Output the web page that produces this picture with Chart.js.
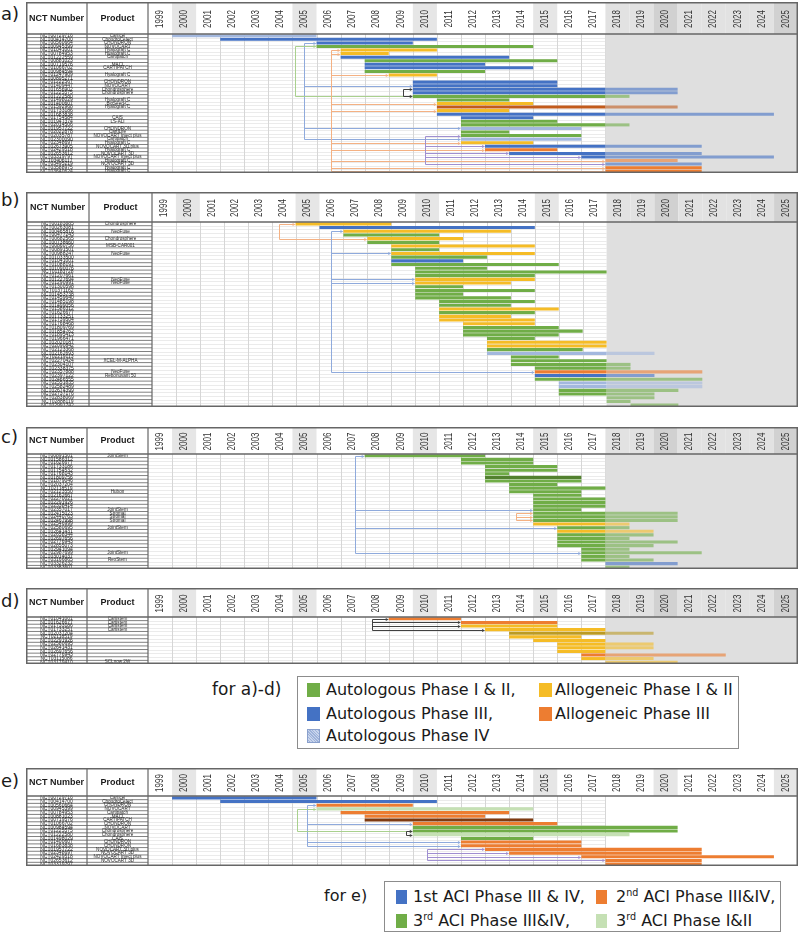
<!DOCTYPE html>
<html lang="en">
<head>
<meta charset="UTF-8">
<title>ACI clinical trials timeline</title>
<script src="https://cdn.jsdelivr.net/npm/chart.js"></script>
<style>
    body {
        margin: 0;
        width: 800px;
        height: 935px;
        position: relative;
        overflow: hidden;
        background: #ffffff;
        font-family: 'DejaVu Sans', sans-serif;
        color: #1a1a1a;
    }
    canvas { position: absolute; }
    .tag { position: absolute; left: 1px; font-size: 18px; line-height: 20px; }
    .note { position: absolute; line-height: 20px; }
    .legend { position: absolute; border: 1px solid #8c8c8c; box-sizing: border-box; background: #fff; }
    .legend span { position: absolute; }
    .legend .txt { line-height: 20px; white-space: nowrap; }
    .legend sup { font-size: 0.6em; vertical-align: 0.6em; line-height: 0; }
    .hatch {
        background: repeating-linear-gradient(45deg, #c9d5ec 0 1px, #9fb3da 1px 2px);
        border: 1px solid #8aa0cc;
        box-sizing: border-box;
    }
</style>
</head>
<body>
<div class="tag" style="top:4px">a)</div>
<div class="tag" style="top:190px">b)</div>
<div class="tag" style="top:427px">c)</div>
<div class="tag" style="top:591px">d)</div>
<div class="tag" style="top:771px">e)</div>

<div class="note" style="left:212px;top:679px;font-size:17px">for a)-d)</div>
<div class="legend" style="left:297px;top:676px;width:442px;height:73px;font-size:16px">
    <span style="left:9px;top:6px;width:13px;height:14px;background:#70ad47"></span>
    <span class="txt" style="left:28px;top:3px">Autologous Phase I &amp; II,</span>
    <span style="left:241px;top:6px;width:13px;height:14px;background:#f5bc26"></span>
    <span class="txt" style="left:257px;top:3px">Allogeneic Phase I &amp; II</span>
    <span style="left:9px;top:30px;width:13px;height:14px;background:#4472c4"></span>
    <span class="txt" style="left:28px;top:27px">Autologous Phase III,</span>
    <span style="left:241px;top:30px;width:13px;height:14px;background:#ed7d31"></span>
    <span class="txt" style="left:257px;top:27px">Allogeneic Phase III</span>
    <span class="hatch" style="left:9px;top:52px;width:13px;height:14px"></span>
    <span class="txt" style="left:28px;top:49px">Autologous Phase IV</span>
</div>

<div class="note" style="left:324px;top:886px;font-size:16px">for e)</div>
<div class="legend" style="left:384px;top:881px;width:397px;height:51px;font-size:16px">
    <span style="left:11px;top:8px;width:11px;height:14px;background:#4472c4"></span>
    <span class="txt" style="left:28px;top:5px">1st ACI Phase III &amp; IV,</span>
    <span style="left:211px;top:8px;width:11px;height:14px;background:#ed7d31"></span>
    <span class="txt" style="left:231px;top:5px">2<sup>nd</sup> ACI Phase III&amp;IV,</span>
    <span style="left:11px;top:32px;width:11px;height:14px;background:#70ad47"></span>
    <span class="txt" style="left:28px;top:29px">3<sup>rd</sup> ACI Phase III&amp;IV,</span>
    <span style="left:211px;top:32px;width:11px;height:14px;background:#c5e0b4"></span>
    <span class="txt" style="left:231px;top:29px">3<sup>rd</sup> ACI Phase I&amp;II</span>
</div>

<script>
    // year columns of every sheet
    const yearTicks = [1999, 2000, 2001, 2002, 2003, 2004, 2005, 2006, 2007, 2008, 2009, 2010, 2011, 2012,
        2013, 2014, 2015, 2016, 2017, 2018, 2019, 2020, 2021, 2022, 2023, 2024, 2025];
    const FUTURE = 2018; // planned part of a trial is drawn pale from here on

    // a) phase III / IV cartilage trials
    const aNct = ('NCT00729716 NCT00414700 NCT00560664 NCT00945399 NCT01041001 NCT00784953 NCT01222559 NCT00881023 ' +
        'NCT00719576 NCT01066702 NCT00984594 NCT01247909 NCT00895271 NCT01222567 NCT01409447 NCT01656902 NCT01225575 ' +
        'NCT01222580 NCT01498029 NCT01400607 NCT01592968 NCT01733186 NCT01683838 NCT01754584 NCT01947374 NCT02014506 ' +
        'NCT01957722 NCT02022878 NCT02035787 NCT02300090 NCT02348697 NCT02673905 NCT02429518 NCT02653612 NCT03319797 ' +
        'NCT03406117 NCT03495219 NCT03588975 NCT03640624').split(' ');
    const aProd = ['Carticel', 'ChondroCelect', 'CHONDRON', 'NOVOCART', 'Hyalograft C', 'Hyalograft C', 'Cartipatch', '',
        'MACI', 'CARTIPATCH', '', 'Hyalograft C', '', 'CHONDRON', 'NOVOCART', 'Chondrosphere', 'Chondrosphere', '',
        'Hyalograft C', 'BioSeed-C', 'Hyalograft C', '', '', 'CAIS', 'LS-ALI', '', 'CHONDRON', 'CartiLife',
        'NOVOCART Inject plus', 'Cartipatch', 'Hyalograft C', 'NOVOCART 3D plus', 'Hyalograft C', 'NOVOCART 3D',
        'NOVOCART Inject plus', 'Hyalograft C', 'NOVOCART 3D', 'Hyalograft C', 'Hyalograft C'];
    const aStart = [2000, 2002, 2006, 2006, 2007, 2007, 2007, 2008, 2008, 2008, 2008, 2009, null, 2010, 2010, 2010, 2010,
        2010, 2011, 2011, 2011, 2011, 2011, 2012, 2012, 2012, 2012, 2012, 2012, 2012, 2012, 2013, 2013, 2014, 2017,
        2018, 2018, 2018, 2018];
    const aEnd = [2006, 2011, 2010, 2015, 2011, 2009, 2014, 2016, 2013, 2015, 2013, 2011, null, 2016, 2016, 2021, 2021,
        2019, 2014, 2015, 2021, 2014, 2025, 2015, 2016, 2019, 2017, 2014, 2017, 2017, 2015, 2022, 2016, 2022, 2025,
        2021, 2022, 2022, 2022];
    const aKind = 'pbbgyybgbbgy-bbbbggyrybbggpggpybobbobOO'.split('');
    const aLinks = [
        { c: 'blue', at: 2005.5, to: [[2, 2006], [14, 2010], [26, 2012], [29, 2012]] },
        { c: 'green', at: 2005.1, to: [[3, 2006], [17, 2010]] },
        { c: 'orange', at: 2006.6, to: [[4, 2007], [5, 2007], [11, 2009], [19, 2011], [21, 2011], [30, 2012], [32, 2013], [35, 2018], [37, 2018], [38, 2018]] },
        { c: 'purple', at: 2010.5, to: [[28, 2012], [31, 2013], [33, 2014], [34, 2017], [36, 2018]] },
        { c: 'black', at: 2009.6, to: [[15, 2010], [17, 2010]] }
    ];

    // b) chondrocyte / MSC phase I-II trials
    const bNct = ('NCT00183885 NCT00263081 NCT00465816 NCT00477243 NCT00682565 NCT00738660 NCT00860756 NCT00891501 ' +
        'NCT00988247 NCT01033500 NCT01041001 NCT01088191 NCT01090076 NCT01183728 NCT01207661 NCT01227694 NCT01290991 ' +
        'NCT01300598 NCT01371162 NCT01453738 NCT01459640 NCT01485198 NCT01499056 NCT01586312 NCT01626677 NCT01733251 ' +
        'NCT01739504 NCT01768468 NCT01809769 NCT01854762 NCT01895413 NCT01966471 NCT02020187 NCT02090842 NCT02123368 ' +
        'NCT02162693 NCT02219113 NCT02270424 NCT02304107 NCT02338375 NCT02357888 NCT02397122 NCT02466555 NCT02551835 ' +
        'NCT02582489 NCT02674399 NCT02737176 NCT02838069 NCT02888119 NCT02991742').split(' ');
    const bProd = ['Chondrosphere', '', 'NeoFuse', '', 'Chondrosphere', '', 'MSB-CAR001', '', 'NeoFuse', '', '', '', '',
        '', '', 'NeoFuse', 'NeoFuse', '', '', '', '', '', '', '', '', '', '', '', '', '', '', '', '', '', '', '', '',
        'XCEL-M-ALPHA', '', '', 'NeoFuse', 'Rebonuvant 50', '', '', '', '', '', '', '', ''];
    const bStart = [2005, 2006, 2007, 2007, 2008, 2008, 2009, 2009, 2009, 2009, 2009, 2009, 2010, 2010, 2010, 2010, 2010,
        2010, 2010, 2010, 2010, 2011, 2011, 2011, 2011, 2011, 2011, 2012, 2012, 2012, 2012, 2013, 2013, 2013, 2013, 2013,
        2014, 2014, 2014, 2015, 2015, 2015, 2015, 2016, 2016, 2016, 2016, 2018, 2018, 2019];
    const bEnd = [2009, 2015, 2014, 2011, 2012, 2011, 2015, 2011, 2015, 2013, 2012, 2016, 2013, 2018, 2015, 2015, 2014,
        2012, 2015, 2012, 2014, 2015, 2014, 2016, 2015, 2014, 2015, 2015, 2016, 2017, 2016, 2015, 2018, 2018, 2017, 2020,
        2016, 2018, 2019, 2019, 2022, 2020, 2022, 2022, 2022, 2021, 2020, 2020, 2019, 2021];
    const bKind = 'ybygygygygbggggyyggggggygyyyggggyygpggggobgppggggg'.split('');
    const bLinks = [
        { c: 'orange', at: 2004.3, to: [[0, 2005], [4, 2008]] },
        { c: 'blue', at: 2006.5, to: [[2, 2007], [8, 2009], [15, 2010], [16, 2010], [40, 2015]] }
    ];

    // c) stem cell trials
    const cNct = ('NCT00891501 NCT01586312 NCT01626677 NCT01733186 NCT01754532 NCT01768143 NCT01809756 NCT01879046 ' +
        'NCT02037204 NCT02118519 NCT02123550 NCT02162667 NCT02270021 NCT02291926 NCT02338414 NCT02357017 NCT02415023 ' +
        'NCT02440763 NCT02467998 NCT02546999 NCT02580695 NCT02641431 NCT02658344 NCT02697656 NCT02776943 NCT02855073 ' +
        'NCT02941094 NCT02987699 NCT03014037 NCT03166865 NCT03326232 NCT03383601').split(' ');
    const cProd = ['JointStem', '', '', '', '', '', '', '', '', '', 'Hubon', '', '', '', '', 'JointStem', 'Stromal',
        'Stromal', 'Stromal', '', 'JointStem', '', '', '', '', '', '', 'JointStem', '', 'RexStem', '', ''];
    const cStart = [2008, 2012, 2012, 2013, 2013, 2013, 2013, 2013, 2014, 2014, 2014, 2015, 2015, 2015, 2015, 2015, 2015,
        2015, 2015, 2015, 2016, 2016, 2016, 2016, 2016, 2016, 2017, 2017, 2017, 2017, 2018, 2018];
    const cEnd = [2013, 2015, 2015, 2016, 2016, 2014, 2017, 2017, 2016, 2018, 2017, 2017, 2018, 2018, 2018, 2017, 2021,
        2021, 2021, 2019, 2019, 2020, 2020, 2019, 2021, 2020, 2019, 2022, 2019, 2020, 2021, 2019];
    const cKind = 'ggggggdggggggggggggygyggggggggbg'.split('');
    const cLinks = [
        { c: 'blue', at: 2007.6, to: [[0, 2008], [15, 2015], [20, 2016], [27, 2017]] },
        { c: 'orange', at: 2014.3, to: [[16, 2015], [17, 2015], [18, 2015]] }
    ];

    // d) allogeneic cord blood / MSC trials
    const dNct = ('NCT01041001 NCT01626677 NCT01733186 NCT01733251 NCT02037204 NCT02118519 NCT02291926 NCT02580695 ' +
        'NCT02641431 NCT02697656 NCT02776943 NCT03115086 NCT03179410').split(' ');
    const dProd = ['Cartistem', 'Cartistem', 'Cartistem', 'Cartistem', '', '', '', '', '', '', '', '', 'SCLnow 2W'];
    const dStart = [2009, 2012, 2012, 2013, 2014, 2014, 2015, 2016, 2016, 2016, 2017, 2017, 2018];
    const dEnd = [2012, 2016, 2016, 2018, 2020, 2017, 2018, 2020, 2020, 2018, 2023, 2020, 2021];
    const dKind = 'ooyykyyyyyoyy'.split('');
    const dLinks = [
        { c: 'black', at: 2008.3, to: [[0, 2009], [1, 2012], [2, 2012], [3, 2013]] }
    ];

    // e) ACI generations
    const eNct = ('NCT00729716 NCT00414700 NCT00560664 NCT00945399 NCT00784953 NCT00881023 NCT00719576 NCT01066702 ' +
        'NCT00984594 NCT01225575 NCT01222580 NCT01498029 NCT01400607 NCT01683838 NCT01957722 NCT02348697 NCT02429518 ' +
        'NCT02653612 NCT03319797').split(' ');
    const eProd = ['Carticel', 'ChondroCelect', 'CHONDRON', 'NOVOCART', 'Cartipatch', 'MACI', 'CARTIPATCH', 'CHONDRON',
        'NOVOCART', 'Chondrosphere', 'Chondrosphere', 'CAIS', 'CHONDRON', 'CHONDRON', 'NOVOCART 3D plus', 'NOVOCART 3D',
        'NOVOCART Inject plus', 'NOVOCART 3D', ''];
    const eStart = [2000, 2002, 2006, 2006, 2007, 2008, 2008, 2010, 2010, 2010, 2010, 2012, 2012, 2012, 2013, 2014, 2017, 2018, 2018];
    const eEnd = [2006, 2011, 2010, 2015, 2014, 2013, 2015, 2016, 2021, 2021, 2019, 2015, 2017, 2017, 2022, 2022, 2025, 2022, 2022];
    const eKind = 'BBOLOOROGGLGOOOOOOO'.split('');
    const eLinks = [
        { c: 'blue', at: 2005.6, to: [[2, 2006], [7, 2010], [12, 2012], [13, 2012]] },
        { c: 'green', at: 2005.2, to: [[3, 2006], [9, 2010]] },
        { c: 'black', at: 2009.7, to: [[9, 2010], [10, 2010]] },
        { c: 'purple', at: 2010.6, to: [[14, 2013], [15, 2014], [16, 2017], [17, 2018]] }
    ];

    const kindColor = {
        g: '#70ad47', b: '#4472c4', y: '#f5bc26', o: '#ed7d31', p: '#a3b8de', r: '#c25b1c',
        d: '#52812f', k: '#bb9b24', O: '#ed7d31',
        B: '#4472c4', G: '#70ad47', L: '#c5e0b4', R: '#7f3a10'
    };
    const noFade = { O: true };
    const linkColor = { blue: '#8faadc', green: '#a9d08e', orange: '#f4b183', purple: '#9f8fd0', black: '#404040' };

    function fade(hex) {
        const n = parseInt(hex.slice(1), 16);
        return `rgba(${n >> 16}, ${(n >> 8) & 255}, ${n & 255}, 0.6)`;
    }

    // one dataset per kind, split in a done part and a planned (pale) part
    function buildDatasets(start, end, kind, future) {
        const sets = [];
        const kinds = [...new Set(kind.filter(k => kindColor[k]))];
        kinds.forEach(k => {
            const split = future && !noFade[k];
            sets.push({
                data: start.map((s, i) => {
                    if (kind[i] !== k || s == null) return null;
                    if (!split) return [s, end[i]];
                    return s < FUTURE ? [s, Math.min(end[i], FUTURE)] : null;
                }),
                backgroundColor: kindColor[k]
            });
            if (split) {
                sets.push({
                    data: start.map((s, i) => (kind[i] === k && s != null && end[i] > FUTURE) ? [Math.max(s, FUTURE), end[i]] : null),
                    backgroundColor: fade(kindColor[k])
                });
            }
        });
        return sets;
    }

    function headShade(yr, future) {
        if (future && yr >= FUTURE) return (yr === 2020 || yr === 2025) ? '#d1d1d1' : '#e2e2e2';
        if (yr % 5 === 0) return '#e6e6e6';
        return null;
    }

    function line(ctx, x0, y0, x1, y1) {
        ctx.beginPath();
        ctx.moveTo(x0, y0);
        ctx.lineTo(x1, y1);
        ctx.stroke();
    }

    // draws the spreadsheet around the bars: header, NCT / product columns, grid, links
    function sheetPlugin(p) {
        return {
            id: 'sheet',
            beforeDraw(chart) {
                const { ctx, chartArea: ca, scales: { x, y } } = chart;
                const W = chart.width, H = chart.height;
                const n = p.nct.length;
                const rowH = (ca.bottom - ca.top) / n;
                const xF = x.getPixelForValue(FUTURE);
                ctx.save();
                ctx.fillStyle = '#fff';
                ctx.fillRect(0, 0, W, H);

                yearTicks.forEach(yr => {
                    const c = headShade(yr, p.future);
                    if (!c) return;
                    const x0 = x.getPixelForValue(yr), x1 = x.getPixelForValue(yr + 1);
                    ctx.fillStyle = c;
                    ctx.fillRect(x0, 0, x1 - x0, ca.top);
                });

                // body grid up to 2018
                ctx.lineWidth = 1;
                ctx.strokeStyle = '#ebebeb';
                for (let i = 1; i < n; i++) {
                    const yy = Math.round(y.getPixelForValue(i) - rowH / 2) + 0.5;
                    line(ctx, ca.left, yy, xF, yy);
                }
                ctx.strokeStyle = '#d6d6d6';
                yearTicks.forEach(yr => {
                    if (yr === 1999 || yr > FUTURE) return;
                    const xx = Math.round(x.getPixelForValue(yr)) + 0.5;
                    line(ctx, xx, ca.top, xx, ca.bottom);
                });
                if (p.future) {
                    ctx.fillStyle = '#dfdfdf';
                    ctx.fillRect(xF, ca.top, ca.right - xF, ca.bottom - ca.top);
                }

                // left table rows
                ctx.strokeStyle = '#4a4a4a';
                ctx.lineWidth = 0.7;
                for (let i = 1; i < n; i++) {
                    const yy = y.getPixelForValue(i) - rowH / 2;
                    line(ctx, 0, yy, ca.left, yy);
                }
                ctx.fillStyle = '#2a2a2a';
                ctx.textAlign = 'center';
                ctx.textBaseline = 'middle';
                ctx.font = '5px "Liberation Sans", Arial, sans-serif';
                p.nct.forEach((t, i) => ctx.fillText(t, p.c1 / 2, y.getPixelForValue(i)));
                ctx.font = '4.6px "Liberation Sans", Arial, sans-serif';
                p.prod.forEach((t, i) => { if (t) ctx.fillText(t, (p.c1 + ca.left) / 2, y.getPixelForValue(i)); });

                // header text
                ctx.fillStyle = '#1a1a1a';
                ctx.font = 'bold 9px "Liberation Sans", Arial, sans-serif';
                ctx.fillText('NCT Number', p.c1 / 2, ca.top / 2 + 0.5);
                ctx.fillText('Product', (p.c1 + ca.left) / 2, ca.top / 2 + 0.5);
                ctx.fillStyle = '#333';
                ctx.font = '10px "Liberation Sans", Arial, sans-serif';
                yearTicks.forEach(yr => {
                    const cx = (x.getPixelForValue(yr) + x.getPixelForValue(yr + 1)) / 2;
                    ctx.save();
                    ctx.translate(cx, ca.top / 2 + 1);
                    ctx.rotate(-Math.PI / 2);
                    ctx.scale(0.8, 1);
                    ctx.fillText(String(yr), 0, 0);
                    ctx.restore();
                });
                ctx.restore();
            },
            afterDatasetsDraw(chart) {
                const { ctx, chartArea: ca, scales: { x, y } } = chart;
                const W = chart.width, H = chart.height;
                ctx.save();
                ctx.lineWidth = 1;
                p.links.forEach(g => {
                    ctx.strokeStyle = linkColor[g.c];
                    ctx.fillStyle = linkColor[g.c];
                    const xv = Math.round(x.getPixelForValue(g.at)) + 0.5;
                    const ys = g.to.map(t => Math.round(y.getPixelForValue(t[0])) + 0.5);
                    line(ctx, xv, Math.min(...ys), xv, Math.max(...ys));
                    g.to.forEach(([r, yr], k) => {
                        const yy = ys[k];
                        const xe = x.getPixelForValue(yr);
                        line(ctx, xv, yy, xe - 2, yy);
                        ctx.beginPath();
                        ctx.moveTo(xe, yy);
                        ctx.lineTo(xe - 3, yy - 1.6);
                        ctx.lineTo(xe - 3, yy + 1.6);
                        ctx.closePath();
                        ctx.fill();
                    });
                });

                // borders
                ctx.strokeStyle = '#666';
                ctx.lineWidth = 1.5;
                line(ctx, 0, ca.top, W, ca.top);
                ctx.lineWidth = 1.2;
                line(ctx, p.c1, 0, p.c1, H);
                line(ctx, ca.left, 0, ca.left, H);
                ctx.lineWidth = 1.5;
                ctx.strokeRect(0.75, 0.75, W - 1.5, H - 1.5);
                ctx.restore();
            }
        };
    }

    const panels = [
        { left: 26, top: 2, right: 798, bottom: 173, head: 34, c1: 87, c2: 148, nct: aNct, prod: aProd, start: aStart, end: aEnd, kind: aKind, links: aLinks, future: true },
        { left: 26, top: 192, right: 798, bottom: 407, head: 222, c1: 89, c2: 152, nct: bNct, prod: bProd, start: bStart, end: bEnd, kind: bKind, links: bLinks, future: true },
        { left: 26, top: 427, right: 798, bottom: 569, head: 454, c1: 87, c2: 148, nct: cNct, prod: cProd, start: cStart, end: cEnd, kind: cKind, links: cLinks, future: true },
        { left: 26, top: 588, right: 798, bottom: 664, head: 617, c1: 87, c2: 148, nct: dNct, prod: dProd, start: dStart, end: dEnd, kind: dKind, links: dLinks, future: true },
        { left: 26, top: 768, right: 798, bottom: 866, head: 796, c1: 87, c2: 148, nct: eNct, prod: eProd, start: eStart, end: eEnd, kind: eKind, links: eLinks, future: false }
    ];

    panels.forEach(pn => {
        const canvas = document.createElement('canvas');
        const w = pn.right - pn.left, h = pn.bottom - pn.top;
        canvas.width = w;
        canvas.height = h;
        canvas.style.left = pn.left + 'px';
        canvas.style.top = pn.top + 'px';
        canvas.style.width = w + 'px';
        canvas.style.height = h + 'px';
        document.body.appendChild(canvas);

        const cfg = Object.assign({}, pn, { c1: pn.c1 - pn.left });
        new Chart(canvas.getContext('2d'), {
            type: 'bar',
            data: {
                labels: pn.nct,
                datasets: buildDatasets(pn.start, pn.end, pn.kind, pn.future).map(ds => Object.assign(ds, {
                    borderWidth: 0,
                    barPercentage: 0.85,
                    categoryPercentage: 1,
                    grouped: false
                }))
            },
            options: {
                indexAxis: 'y',
                responsive: false,
                animation: false,
                events: [],
                layout: { padding: { left: pn.c2 - pn.left, top: pn.head - pn.top, right: 0, bottom: 0 } },
                plugins: { legend: { display: false }, tooltip: { enabled: false } },
                scales: {
                    x: { type: 'linear', min: 1999, max: 2026, display: false },
                    y: { display: false, offset: true }
                }
            },
            plugins: [sheetPlugin(cfg)]
        });
    });
</script>
</body>
</html>
